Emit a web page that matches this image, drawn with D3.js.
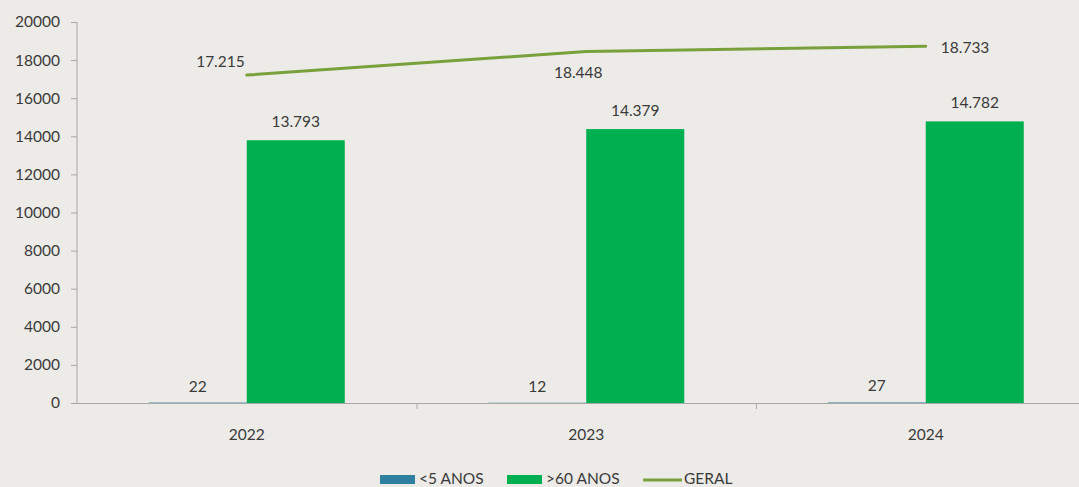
<!DOCTYPE html>
<html>
<head>
<meta charset="utf-8">
<script src="https://cdn.jsdelivr.net/npm/d3@7"></script>
<style>
  html, body { margin: 0; padding: 0; background: #EDEBE7; }
  svg { display: block; }
  text { font-family: Lato, "Open Sans", sans-serif; fill: #3a3a3a; }
</style>
</head>
<body>
<svg id="chart" width="1079" height="487"></svg>
<script>
// Atendimentos por ano
const years = ["2022", "2023", "2024"];
const seriesNames = ["<5 ANOS", ">60 ANOS", "GERAL"];
const under5 = [22, 12, 27];
const over60 = [13793, 14379, 14782];
const geral = [17215, 18448, 18733];
const yTicks = [0, 2000, 4000, 6000, 8000, 10000, 12000, 14000, 16000, 18000, 20000];

const colors = { under5: "#2E7FA0", over60: "#00AF50", geral: "#78A13C", axis: "#A8A8A8" };

const svg = d3.select("#chart");
const plot = { left: 77, top: 22, bottom: 403, right: 1095.5 };

const ptBR = d3.formatLocale({ decimal: ",", thousands: ".", grouping: [3], currency: ["R$", ""] });
const fmt = ptBR.format(",d");

const x = d3.scaleBand().domain(years).range([plot.left, plot.right]).paddingInner(0).paddingOuter(0);
const sub = d3.scaleBand().domain(["u5", "o60"]).range([0, x.bandwidth()]).paddingInner(0).paddingOuter(0.732);
const y = d3.scaleLinear().domain([0, 20000]).range([plot.bottom, plot.top]);

// Y axis
const yAxis = svg.append("g")
  .attr("transform", `translate(${plot.left},0)`)
  .call(d3.axisLeft(y).tickValues(yTicks).tickFormat(d3.format("d")).tickSize(6).tickPadding(11));
yAxis.select(".domain").attr("stroke", colors.axis).attr("d", `M0,${plot.top}V${plot.bottom}`);
yAxis.selectAll(".tick line").attr("stroke", colors.axis);
yAxis.selectAll(".tick text").style("font-size", "15.5px").attr("fill", "#3a3a3a").style("font-family", "Lato, 'Open Sans', sans-serif");

// Bars
const groups = svg.append("g").selectAll("g").data(years).join("g")
  .attr("transform", d => `translate(${x(d)},0)`);

groups.append("rect")
  .attr("x", sub("u5"))
  .attr("width", sub.bandwidth())
  .attr("y", (d, i) => y(under5[i]))
  .attr("height", (d, i) => y(0) - y(under5[i]))
  .attr("fill", colors.under5);

groups.append("rect")
  .attr("x", sub("o60"))
  .attr("width", sub.bandwidth())
  .attr("y", (d, i) => y(over60[i]))
  .attr("height", (d, i) => y(0) - y(over60[i]))
  .attr("fill", colors.over60);

// Bar value labels
groups.append("text")
  .attr("x", sub("u5") + sub.bandwidth() / 2)
  .attr("y", (d, i) => y(under5[i]) - 11)
  .attr("text-anchor", "middle")
  .style("font-size", "15.5px")
  .text((d, i) => fmt(under5[i]));

groups.append("text")
  .attr("x", sub("o60") + sub.bandwidth() / 2)
  .attr("y", (d, i) => y(over60[i]) - 13)
  .attr("text-anchor", "middle")
  .style("font-size", "15.5px")
  .text((d, i) => fmt(over60[i]));

// X axis
const xAxis = svg.append("g");
xAxis.append("line")
  .attr("x1", plot.left).attr("x2", plot.right)
  .attr("y1", plot.bottom + 0.5).attr("y2", plot.bottom + 0.5)
  .attr("stroke", colors.axis);
xAxis.selectAll("line.tick").data(years.slice(1).concat(["end"])).join("line")
  .attr("class", "tick")
  .attr("x1", d => (d === "end" ? plot.right : x(d)) + 0.5)
  .attr("x2", d => (d === "end" ? plot.right : x(d)) + 0.5)
  .attr("y1", plot.bottom).attr("y2", plot.bottom + 6)
  .attr("stroke", colors.axis);
xAxis.selectAll("text").data(years).join("text")
  .attr("x", d => x(d) + x.bandwidth() / 2)
  .attr("y", plot.bottom + 37)
  .attr("text-anchor", "middle")
  .style("font-size", "15.5px")
  .text(d => d);

// GERAL line
const cx = d => x(d) + x.bandwidth() / 2;
svg.append("path")
  .datum(geral)
  .attr("fill", "none")
  .attr("stroke", colors.geral)
  .attr("stroke-width", 3)
  .attr("stroke-linecap", "round")
  .attr("d", d3.line().x((d, i) => cx(years[i])).y(d => y(d)));

// GERAL labels: left, below, right of each point
const placement = ["left", "below", "right"];
svg.append("g").selectAll("text").data(geral).join("text")
  .attr("x", (d, i) => placement[i] === "left" ? cx(years[i]) - 2 : placement[i] === "right" ? cx(years[i]) + 15 : cx(years[i]) - 8)
  .attr("y", (d, i) => placement[i] === "left" ? y(d) - 8 : placement[i] === "right" ? y(d) + 7 : y(d) + 26)
  .attr("text-anchor", (d, i) => placement[i] === "left" ? "end" : placement[i] === "right" ? "start" : "middle")
  .style("font-size", "15.5px")
  .text(d => fmt(d));

// Legend
const legend = svg.append("g").attr("transform", "translate(0,479)");
const items = [
  { name: seriesNames[0], type: "rect", color: colors.under5, x: 380 },
  { name: seriesNames[1], type: "rect", color: colors.over60, x: 507 },
  { name: seriesNames[2], type: "line", color: colors.geral, x: 643 }
];
items.forEach(it => {
  if (it.type === "rect") {
    legend.append("rect").attr("x", it.x).attr("y", -4).attr("width", 35).attr("height", 9).attr("fill", it.color);
  } else {
    legend.append("line").attr("x1", it.x).attr("x2", it.x + 39).attr("y1", 1).attr("y2", 1)
      .attr("stroke", it.color).attr("stroke-width", 3);
  }
  legend.append("text").attr("x", it.x + (it.type === "rect" ? 39 : 41)).attr("y", 5)
    .style("font-size", "15.5px").text(it.name);
});
</script>
</body>
</html>
